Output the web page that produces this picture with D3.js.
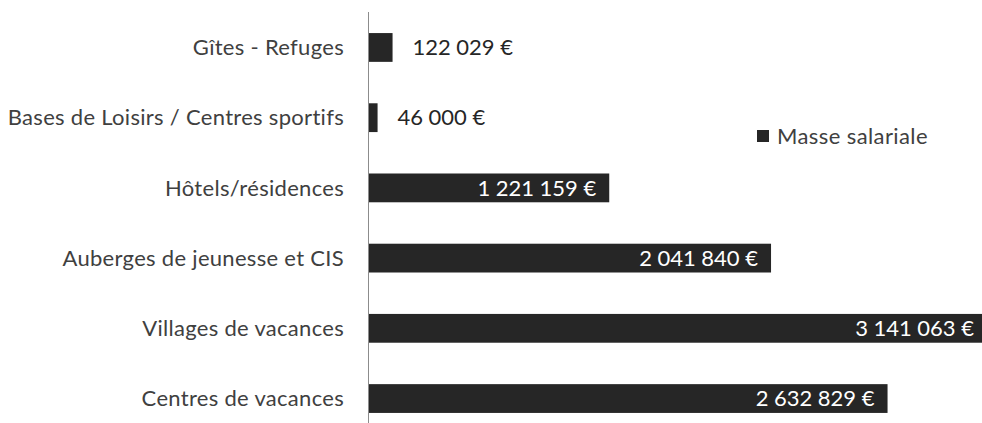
<!DOCTYPE html>
<html>
<head>
<meta charset="utf-8">
<script src="https://cdn.jsdelivr.net/npm/d3@7"></script>
<style>
  body { margin: 0; background: #fff; }
  svg { display: block; font-family: Lato, "Open Sans", sans-serif; }
</style>
</head>
<body>
<svg id="chart" width="982" height="423"></svg>
<script>
const categories = [
  "Gîtes - Refuges",
  "Bases de Loisirs / Centres sportifs",
  "Hôtels/résidences",
  "Auberges de jeunesse et CIS",
  "Villages de vacances",
  "Centres de vacances"
];
const masseSalariale = [122029, 46000, 1221159, 2041840, 3141063, 2632829];
const seriesName = "Masse salariale";

const data = categories.map((c, i) => ({ cat: c, value: masseSalariale[i] }));

const svg = d3.select("#chart");
const axisX = 368.5;
const fontSize = 22;

const x = d3.scaleLinear().domain([0, 3500000]).range([axisX, axisX + 690]);
const y = d3.scaleBand().domain(categories).range([12, 434]).paddingInner(0.59).paddingOuter(0.3);

const fmt = v => d3.format(",")(v).replace(/,/g, "\u202f") + "\u00a0€";

// bars
svg.selectAll(".bar")
    .data(data)
    .enter().append("rect")
    .attr("class", "bar")
    .attr("x", x(0))
    .attr("y", d => y(d.cat))
    .attr("width", d => x(d.value) - x(0))
    .attr("height", y.bandwidth())
    .attr("fill", "#262626");

// vertical axis line
svg.append("line")
    .attr("x1", axisX).attr("x2", axisX)
    .attr("y1", 12).attr("y2", 423)
    .attr("stroke", "#8c8c8c")
    .attr("stroke-width", 1);

// category labels
svg.selectAll(".cat")
    .data(data)
    .enter().append("text")
    .attr("class", "cat")
    .attr("x", 344)
    .attr("y", d => y(d.cat) + y.bandwidth() / 2)
    .attr("dy", "0.35em")
    .attr("text-anchor", "end")
    .attr("font-size", fontSize)
    .attr("letter-spacing", 0.3)
    .attr("fill", "#404040")
    .text(d => d.cat);

// value labels
const inside = d => x(d.value) - x(0) > 150;
svg.selectAll(".val")
    .data(data)
    .enter().append("text")
    .attr("class", "val")
    .attr("x", d => inside(d) ? Math.min(x(d.value), 987) - 13 : x(d.value) + 20)
    .attr("y", d => y(d.cat) + y.bandwidth() / 2)
    .attr("dy", "0.35em")
    .attr("text-anchor", d => inside(d) ? "end" : "start")
    .attr("font-size", fontSize)
    .attr("letter-spacing", 0.3)
    .attr("fill", d => inside(d) ? "#ffffff" : "#262626")
    .text(d => fmt(d.value));

// legend
const legend = svg.append("g").attr("transform", "translate(757,130)");
legend.append("rect").attr("width", 12).attr("height", 12).attr("fill", "#262626");
legend.append("text")
    .attr("x", 20).attr("y", 6.5).attr("dy", "0.35em")
    .attr("font-size", fontSize)
    .attr("letter-spacing", 0.4)
    .attr("fill", "#404040")
    .text(seriesName);
</script>
</body>
</html>
